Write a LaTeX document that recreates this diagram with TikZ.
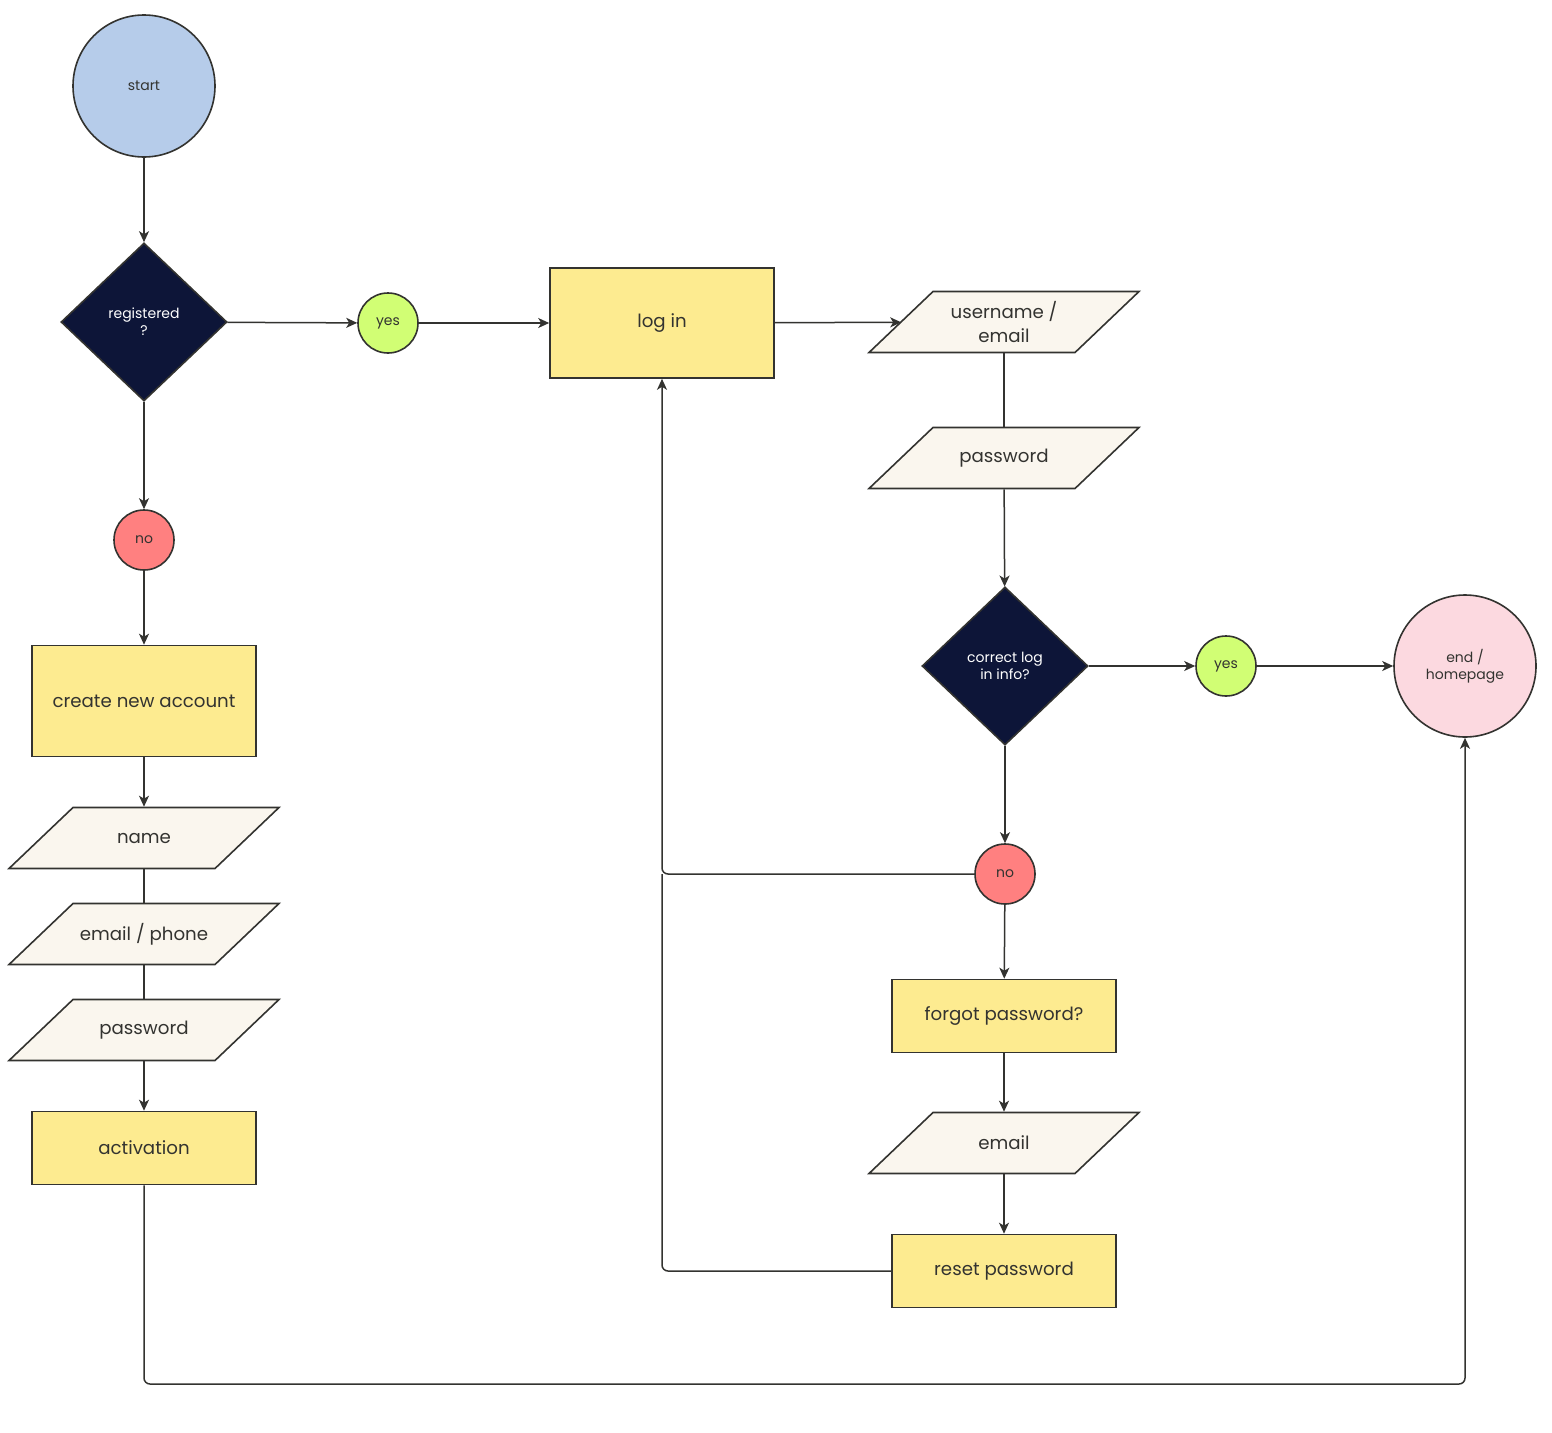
\documentclass[tikz,border=0pt]{standalone}
\usepackage{fontspec}
\setmainfont{Poppins}
\usetikzlibrary{shapes.geometric,arrows.meta,backgrounds}
\definecolor{ln}{HTML}{333330}
\definecolor{startc}{HTML}{B6CCEA}
\definecolor{diac}{HTML}{0D1538}
\definecolor{yesc}{HTML}{D1FE74}
\definecolor{noc}{HTML}{FF8080}
\definecolor{boxc}{HTML}{FDEB90}
\definecolor{parac}{HTML}{FAF6EE}
\definecolor{endc}{HTML}{FCD9E0}
\begin{document}
\begin{tikzpicture}[x=1pt,y=-1pt,
  every node/.style={draw=ln,line width=1.6pt,text=ln,inner sep=0pt,align=center},
  bigc/.style={circle,minimum size=142,font=\fontsize{14}{17}\selectfont},
  smallc/.style={circle,minimum size=60,font=\fontsize{14}{17}\selectfont},
  dia/.style={diamond,fill=diac,minimum width=166,minimum height=158,text=white,font=\fontsize{14}{17}\selectfont},
  boxn/.style={rectangle,fill=boxc,minimum width=224,font=\fontsize{18.2}{24}\selectfont},
  paran/.style={rectangle,draw=none,minimum width=204,minimum height=61,font=\fontsize{18.2}{24}\selectfont},
  paradraw/.style={draw=ln,line width=1.6pt,fill=parac,line join=miter},
  arr/.style={draw=ln,line width=1.5pt,-{Stealth[length=11pt,width=10pt,inset=3pt]}},
  con/.style={draw=ln,line width=1.5pt},
]
\useasboundingbox (0,0) rectangle (1552,1432);

\node[bigc,fill=startc] (start) at (144,86) {start};
\node[dia] (reg) at (144,322) {registered\\?};
\node[smallc,fill=yesc] (yes1) at (388,323) {yes};
\node[boxn,minimum height=110] (login) at (662,323) {log in};
\node[paran] (user) at (1004,322) {username /\\email};
\node[paran] (pass) at (1004,458) {password};
\node[dia] (corr) at (1005,666) {correct log\\in info?};
\node[smallc,fill=yesc] (yes2) at (1226,666) {yes};
\node[bigc,fill=endc] (end) at (1465,666) {end /\\homepage};
\node[smallc,fill=noc] (no2) at (1005,874) {no};
\node[boxn,minimum height=73] (forgot) at (1004,1016) {forgot password?};
\node[paran] (email) at (1004,1143) {email};
\node[boxn,minimum height=73] (reset) at (1004,1271) {reset password};

\node[smallc,fill=noc] (no1) at (144,540) {no};
\node[boxn,minimum height=111] (create) at (144,701) {create new account};
\node[paran] (name) at (144,838) {name};
\node[paran] (ephone) at (144,934) {email / phone};
\node[paran] (pw2) at (144,1030) {password};
\node[boxn,minimum height=73] (act) at (144,1148) {activation};

\begin{scope}[on background layer]
\foreach \p in {user,pass,email,name,ephone,pw2}{
  \path[paradraw] ([xshift=-135,yshift=-30.5]\p.center) -- ([xshift=-71,yshift=30.5]\p.center)
    -- ([xshift=135,yshift=30.5]\p.center) -- ([xshift=71,yshift=-30.5]\p.center) -- cycle;
}
\end{scope}

\coordinate (bl) at (144,1384);
\coordinate (br) at (1465,1384);
\coordinate (lj) at (662,874);

\draw[arr] (start) -- (reg);
\draw[arr] (reg) -- (yes1);
\draw[arr] (yes1) -- (login);
\draw[arr] (login) -- (user);
\draw[con] (user) -- (pass);
\draw[arr] (pass) -- (corr);
\draw[arr] (corr) -- (yes2);
\draw[arr] (yes2) -- (end);
\draw[arr] (corr) -- (no2);
\draw[arr,rounded corners=6pt] (no2.west) -- (lj) -- (login.south);
\draw[arr] (no2) -- (forgot);
\draw[arr] (forgot) -- (email);
\draw[arr] (email) -- (reset);
\draw[con,rounded corners=6pt] (reset.west) -| (lj);

\draw[arr] (reg) -- (no1);
\draw[arr] (no1) -- (create);
\draw[arr] (create) -- (name);
\draw[con] (name) -- (ephone);
\draw[con] (ephone) -- (pw2);
\draw[arr] (pw2) -- (act);
\draw[arr,rounded corners=6pt] (act.south) -- (bl) -- (br) -- (end.south);
\end{tikzpicture}
\end{document}
